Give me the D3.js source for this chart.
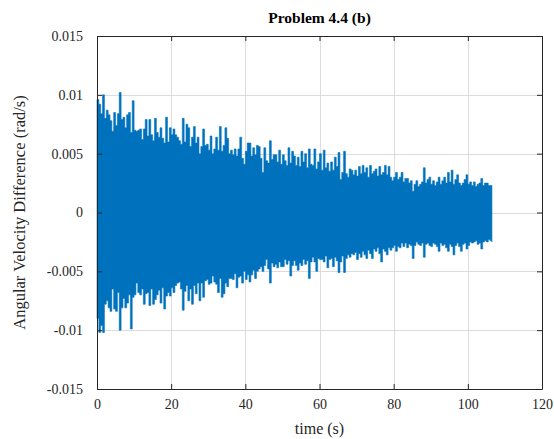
<!DOCTYPE html>
<html>
<head>
<meta charset="utf-8">
<script src="https://cdn.jsdelivr.net/npm/d3@7"></script>
<style>
  body { margin: 0; background: #fff; }
  text { font-family: "Liberation Serif", "Times New Roman", serif; fill: #262626; }
  .grid line { stroke: #dcdcdc; stroke-width: 1; }
  .axis path, .axis line { stroke: #262626; }
</style>
</head>
<body>
<div class="container"></div>
<script>
// envelope of the signal, one sample every 0.5 s, in units of 1e-3 rad/s
var step = 0.5;
var upper = [
  9.6, 9.2, 8.4, 10.0, 8.0, 8.7, 8.3, 7.8, 6.9, 8.5, 7.4, 8.4, 10.2, 7.9, 8.1, 7.2, 8.3, 8.5, 6.8, 9.5,
  7.0, 6.9, 7.0, 7.1, 6.2, 7.1, 7.9, 6.5, 7.9, 6.6, 6.1, 8.0, 6.8, 6.4, 7.2, 6.3, 5.9, 8.1, 6.0, 7.2,
  6.6, 7.1, 6.6, 6.4, 6.1, 5.8, 8.0, 6.0, 7.5, 7.2, 5.6, 6.4, 7.3, 5.9, 6.4, 5.0, 5.6, 7.1, 5.7, 5.8,
  5.3, 6.5, 5.0, 5.4, 6.4, 5.3, 7.3, 5.2, 5.7, 7.2, 6.3, 5.0, 5.3, 4.9, 5.4, 4.8, 5.4, 6.4, 4.6, 4.1,
  5.2, 5.9, 5.9, 4.8, 5.5, 4.9, 5.7, 5.6, 4.6, 3.4, 5.5, 4.4, 4.2, 6.1, 4.5, 4.9, 4.9, 4.3, 5.3, 4.1,
  4.9, 4.4, 4.0, 5.5, 4.2, 5.2, 4.8, 4.0, 4.7, 3.9, 5.2, 4.3, 5.0, 3.8, 5.4, 4.1, 4.0, 5.4, 3.7, 4.3,
  5.0, 3.6, 5.3, 3.8, 4.2, 3.5, 4.3, 3.6, 4.7, 3.9, 5.1, 2.8, 3.4, 5.2, 3.3, 3.0, 3.7, 3.6, 3.2, 3.6,
  3.1, 3.9, 3.3, 4.0, 3.4, 3.8, 3.0, 4.0, 3.3, 3.5, 3.7, 3.1, 3.9, 3.2, 3.4, 4.0, 3.2, 3.9, 3.0, 2.7,
  3.0, 3.4, 2.8, 3.0, 3.4, 2.6, 2.9, 2.9, 2.5, 2.7, 1.8, 2.4, 2.7, 2.2, 2.4, 2.6, 3.8, 2.5, 2.8, 3.0,
  2.4, 2.7, 2.3, 2.6, 3.0, 2.4, 2.7, 3.0, 2.5, 3.4, 2.6, 3.6, 2.4, 2.8, 3.2, 2.5, 2.3, 2.5, 2.8, 3.2,
  2.4, 2.6, 2.3, 2.6, 2.2, 2.4, 2.5, 2.9, 2.3, 2.5, 2.5, 2.3, 2.3, 2.2
];
var lower = [
  -9.0, -10.2, -9.6, -10.2, -7.8, -7.5, -8.1, -8.4, -6.5, -8.2, -8.4, -6.8, -10.0, -8.1, -7.3, -8.1, -7.7, -7.0, -9.9, -7.2,
  -7.0, -6.0, -6.8, -7.0, -6.5, -7.8, -6.9, -6.8, -7.9, -6.5, -7.8, -7.4, -7.0, -6.6, -7.7, -6.4, -8.2, -7.1, -6.8, -7.1,
  -6.4, -6.8, -6.2, -6.0, -5.9, -6.5, -8.3, -6.7, -6.2, -7.5, -6.5, -7.8, -6.2, -6.9, -6.0, -7.5, -6.0, -7.2, -5.8, -5.7,
  -6.1, -6.0, -5.4, -5.9, -6.1, -6.8, -5.6, -7.2, -6.9, -6.0, -6.3, -5.6, -5.6, -5.7, -5.2, -6.4, -5.5, -5.4, -6.0, -5.0,
  -5.7, -5.3, -5.9, -5.3, -4.9, -5.6, -5.0, -4.8, -4.6, -5.0, -4.5, -4.0, -4.8, -6.0, -4.3, -4.6, -4.4, -4.7, -4.2, -4.6,
  -4.6, -4.0, -4.4, -4.1, -5.4, -4.5, -4.1, -4.5, -4.9, -4.3, -4.5, -4.0, -4.4, -4.1, -5.6, -4.2, -3.8, -4.2, -5.0, -3.9,
  -4.0, -4.0, -4.2, -3.7, -4.7, -4.0, -3.9, -4.6, -3.8, -4.1, -5.1, -4.2, -3.7, -5.1, -3.9, -3.6, -3.8, -3.5, -3.6, -3.4,
  -4.0, -3.5, -3.8, -3.3, -3.6, -3.9, -3.2, -3.5, -3.9, -3.1, -3.3, -3.0, -3.5, -4.2, -3.1, -3.3, -3.6, -3.0, -3.2, -3.0,
  -2.8, -3.3, -2.9, -3.0, -2.6, -2.9, -2.6, -3.0, -2.7, -2.8, -3.9, -2.8, -2.5, -2.7, -2.8, -2.6, -3.8, -2.7, -2.6, -2.8,
  -2.9, -2.6, -2.7, -2.9, -3.3, -2.6, -2.8, -2.7, -3.0, -3.3, -2.7, -2.9, -3.6, -2.8, -2.6, -2.9, -3.3, -2.7, -2.6, -3.1,
  -2.8, -2.5, -2.6, -2.5, -2.4, -2.7, -2.6, -3.1, -2.5, -2.4, -2.5, -2.3, -2.4, -2.5
];

var xTicks = [0, 20, 40, 60, 80, 100, 120];
var yTicks = [-0.015, -0.01, -0.005, 0, 0.005, 0.01, 0.015];
var yTickLabels = ["-0.015", "-0.01", "-0.005", "0", "0.005", "0.01", "0.015"];

var data = upper.map(function(u, i) {
  return {t: i * step, hi: u / 1000, lo: lower[i] / 1000};
});

var margin = {top: 36, right: 12, bottom: 50, left: 97};
var width = 554 - margin.left - margin.right;
var height = 439 - margin.top - margin.bottom;

var x = d3.scaleLinear().domain([0, 120]).range([0, width]);
var y = d3.scaleLinear().domain([-0.015, 0.015]).range([height, 0]);

var svg = d3.select(".container")
    .append("svg")
    .attr("width", 554)
    .attr("height", 439)
    .append("g")
    .attr("transform", "translate(" + margin.left + "," + margin.top + ")");

// grid
svg.append("g")
    .attr("class", "grid")
    .selectAll("line.gx")
    .data(xTicks.slice(1, -1))
    .enter().append("line")
    .attr("x1", function(d) { return Math.round(x(d)) + 0.5; })
    .attr("x2", function(d) { return Math.round(x(d)) + 0.5; })
    .attr("y1", 0).attr("y2", height);

svg.select(".grid")
    .selectAll("line.gy")
    .data(yTicks.slice(1, -1))
    .enter().append("line")
    .attr("y1", function(d) { return Math.round(y(d)) + 0.5; })
    .attr("y2", function(d) { return Math.round(y(d)) + 0.5; })
    .attr("x1", 0).attr("x2", width);

// signal
var area = d3.area()
    .curve(d3.curveStepAfter)
    .x(function(d) { return x(d.t); })
    .y0(function(d) { return y(d.lo); })
    .y1(function(d) { return y(d.hi); });

svg.append("path")
    .datum(data)
    .attr("fill", "#0072BD")
    .attr("stroke", "#0072BD")
    .attr("stroke-width", 0.6)
    .attr("d", area);

// axes, ticks inward on all sides
var tickLen = 5;
svg.append("g")
    .attr("class", "axis")
    .attr("transform", "translate(0," + height + ")")
    .call(d3.axisBottom(x).tickValues(xTicks).tickSizeInner(-tickLen).tickSizeOuter(0).tickPadding(10))
    .selectAll("text").style("font-size", "14px");

svg.append("g")
    .attr("class", "axis")
    .call(d3.axisTop(x).tickValues(xTicks).tickSizeInner(-tickLen).tickSizeOuter(0).tickFormat(""));

svg.append("g")
    .attr("class", "axis")
    .call(d3.axisLeft(y).tickValues(yTicks).tickSizeInner(-tickLen).tickSizeOuter(0).tickPadding(14)
      .tickFormat(function(d, i) { return yTickLabels[i]; }))
    .selectAll("text").style("font-size", "14px");

svg.append("g")
    .attr("class", "axis")
    .attr("transform", "translate(" + width + ",0)")
    .call(d3.axisRight(y).tickValues(yTicks).tickSizeInner(-tickLen).tickSizeOuter(0).tickFormat(""));

svg.selectAll(".axis text").attr("fill", "#262626");

// labels
svg.append("text")
    .attr("x", width / 2)
    .attr("y", -13)
    .attr("text-anchor", "middle")
    .style("font-size", "15.5px")
    .style("font-weight", "bold")
    .style("fill", "#000")
    .text("Problem 4.4 (b)");

svg.append("text")
    .attr("x", width / 2)
    .attr("y", height + 45)
    .attr("text-anchor", "middle")
    .style("font-size", "16px")
    .text("time (s)");

svg.append("text")
    .attr("transform", "translate(" + (-72) + "," + (height / 2) + ") rotate(-90)")
    .attr("text-anchor", "middle")
    .style("font-size", "16.5px")
    .text("Angular Velocity Difference (rad/s)");
</script>
</body>
</html>
